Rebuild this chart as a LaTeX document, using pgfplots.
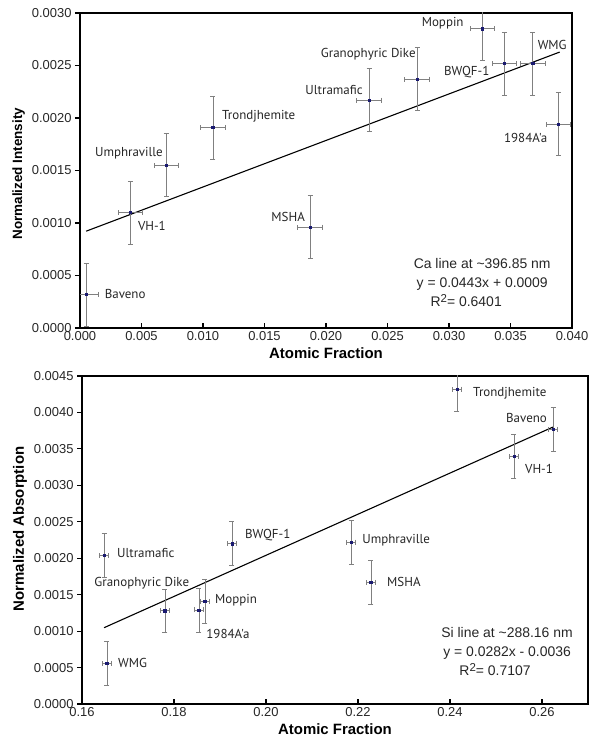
\documentclass[border=0pt]{standalone}
\usepackage{fontspec}
\setmainfont{Liberation Sans}
\newfontfamily\lbl{PT Sans}
\usepackage{pgfplots}
\pgfplotsset{compat=1.18}
\definecolor{navy}{HTML}{1A1A70}
\tikzset{lab/.style={font=\lbl\fontsize{13}{15}\selectfont, text=black!85, inner sep=0pt}}
\begin{document}
\begin{tikzpicture}
\path[use as bounding box] (0,0) rectangle (595bp,738bp);
\pgfplotsset{
  common/.style={
    scale only axis, anchor=south west,
    axis line style={line width=1.3bp},
    tick style={line width=1.1bp, black},
    major tick length=5bp,
    xtick pos=bottom, ytick pos=left,
    xtick align=inside, ytick align=outside,
    ticklabel style={font=\fontsize{13}{15}\selectfont, text=black!85},
    /pgf/number format/assume math mode=true,
    xlabel style={font=\bfseries\fontsize{15}{17}\selectfont},
    scaled ticks=false,
    yticklabel style={/pgf/number format/.cd, fixed, fixed zerofill, precision=4},
  },
  pts/.style={only marks, mark=square*, mark size=1.2bp, color=navy,
    error bars/.cd, x dir=both, x explicit, y dir=both, y explicit,
    error bar style={gray, line width=0.6bp},
    error mark options={gray, mark size=2.5bp, line width=0.6bp, rotate=90}},
}
% ---------- top ----------
\begin{axis}[common, at={(80bp,410bp)}, width=492bp, height=315bp,
  xmin=0, xmax=0.04, ymin=0, ymax=0.003,
  xtick={0,0.005,...,0.040}, ytick={0,0.0005,...,0.0030},
  xticklabel style={/pgf/number format/.cd, fixed, fixed zerofill, precision=3},
  ylabel style={font=\bfseries\fontsize{13.5}{16}\selectfont, at={(ticklabel cs:0.49)}},
  xlabel={Atomic Fraction}, ylabel={Normalized Intensity}]
\addplot[black, line width=1.1bp] coordinates {(0.0005,0.000922) (0.039,0.002628)};
\addplot[pts] table[x=x, y=y, x error=ex, y error=ey] {
x y ex ey
0.0005 0.00032 0.001 0.0003
0.0041 0.00110 0.001 0.0003
0.0070 0.00155 0.001 0.0003
0.0108 0.00191 0.001 0.0003
0.0187 0.00096 0.001 0.0003
0.0235 0.00217 0.001 0.0003
0.0274 0.00237 0.001 0.0003
0.0327 0.00285 0.001 0.0003
0.0345 0.00252 0.001 0.0003
0.0368 0.00252 0.001 0.0003
0.0389 0.00194 0.001 0.0003
};
\node[lab, anchor=west] at (axis cs:0.0020,0.00032) {Baveno};
\node[lab, anchor=west] at (axis cs:0.0047,0.00097) {VH-1};
\node[lab, anchor=east] at (axis cs:0.00675,0.00166) {Umphraville};
\node[lab, anchor=west] at (axis cs:0.01154,0.00202) {Trondjhemite};
\node[lab, anchor=east] at (axis cs:0.0183,0.00106) {MSHA};
\node[lab, anchor=east] at (axis cs:0.0230,0.00227) {Ultramafic};
\node[lab, anchor=east] at (axis cs:0.0273,0.00261) {Granophyric Dike};
\node[lab, anchor=east] at (axis cs:0.0312,0.00290) {Moppin};
\node[lab, anchor=east] at (axis cs:0.0333,0.00244) {BWQF-1};
\node[lab, anchor=west] at (axis cs:0.0372,0.00270) {WMG};
\node[lab, anchor=east] at (axis cs:0.0380,0.00181) {1984A'a};
\node[align=center, font=\fontsize{14}{19}\selectfont, text=black!85] at (axis cs:0.0327,0.00043)
  {Ca line at \textasciitilde396.85 nm\\ y = 0.0443x + 0.0009\\ R\raisebox{0.6ex}{\fontsize{11.5}{11}\selectfont 2}= 0.6401\hspace*{32bp}};
\end{axis}
% ---------- bottom ----------
\begin{axis}[common, at={(82bp,34bp)}, width=506bp, height=328bp,
  xmin=0.16, xmax=0.27, ymin=0, ymax=0.0045,
  xtick={0.16,0.18,...,0.261}, ytick={0,0.0005,...,0.0045},
  xticklabel style={/pgf/number format/.cd, fixed, fixed zerofill, precision=2},
  ylabel style={font=\bfseries\fontsize{15}{17}\selectfont, at={(ticklabel cs:0.534)}},
  xlabel={Atomic Fraction}, ylabel={Normalized Absorption}]
\addplot[black, line width=1.1bp] coordinates {(0.1648,0.001047) (0.2624,0.0038)};
\addplot[pts] table[x=x, y=y, x error=ex, y error=ey] {
x y ex ey
0.1648 0.00204 0.001 0.0003
0.1654 0.00056 0.001 0.0003
0.1780 0.00128 0.001 0.0003
0.1854 0.00129 0.001 0.0003
0.1867 0.00141 0.001 0.0003
0.1926 0.00220 0.001 0.0003
0.2185 0.00222 0.001 0.0003
0.2228 0.00167 0.001 0.0003
0.2415 0.00432 0.001 0.0003
0.2539 0.00340 0.001 0.0003
0.2624 0.00377 0.001 0.0003
};
\node[lab, anchor=west] at (axis cs:0.1676,0.00207) {Ultramafic};
\node[lab, anchor=center] at (axis cs:0.1730,0.00166) {Granophyric Dike};
\node[lab, anchor=west] at (axis cs:0.1889,0.00142) {Moppin};
\node[lab, anchor=west] at (axis cs:0.1870,0.00096) {1984A'a};
\node[lab, anchor=west] at (axis cs:0.1678,0.00056) {WMG};
\node[lab, anchor=west] at (axis cs:0.1954,0.00232) {BWQF-1};
\node[lab, anchor=west] at (axis cs:0.2209,0.00225) {Umphraville};
\node[lab, anchor=west] at (axis cs:0.2263,0.00167) {MSHA};
\node[lab, anchor=west] at (axis cs:0.2450,0.00426) {Trondjhemite};
\node[lab, anchor=east] at (axis cs:0.2611,0.00393) {Baveno};
\node[lab, anchor=west] at (axis cs:0.2563,0.00323) {VH-1};
\node[align=center, font=\fontsize{14}{19}\selectfont, text=black!85] at (axis cs:0.2524,0.00072)
  {Si line at \textasciitilde288.16 nm\\ y = 0.0282x - 0.0036\\ R\raisebox{0.6ex}{\fontsize{11.5}{11}\selectfont 2}= 0.7107\hspace*{24bp}};
\end{axis}
\end{tikzpicture}
\end{document}
